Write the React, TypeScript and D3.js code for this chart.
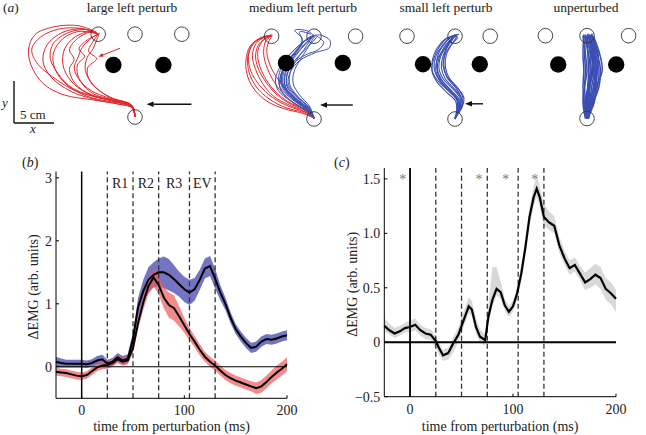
import React from "react";
import * as d3 from "d3";

const W = 646;
const H = 435;
const FONT = "Liberation Serif, DejaVu Serif, Times New Roman, serif";

// ---------- panel (a): reach trajectories (cm, origin at start target, y up) ----------
const conditionTitles = ["large left perturb", "medium left perturb", "small left perturb", "unperturbed"];
const topTargetX = [[-4.6, 0, 5.85], [-5.3, 0, 5.2], [-6.0, 0, 4.4], [-5.2, 0, 5.2]];
const topTargetY = 10.35;
const obstacleX = [[-2.7, 3.55], [-3.5, 3.6], [-4.0, 3.1], [-3.6, 3.65]];
const obstacleY = [6.5, 7.0, 6.85, 6.75];
const perturbLength = [5.6, 4.1, 2.25, 0];
const perturbTipX = [1.45, 0.75, 1.25, 0];
const perturbY = [1.6, 1.75, 1.9, 0];

const largeRed = [
  [[0, 0], [-0.3, 1.3], [-2, 1.8], [-4.5, 2.4], [-7.5, 3.3], [-10, 4.8], [-12.3, 6.8], [-12.9, 8.5], [-11.8, 10], [-9.5, 11], [-7, 11.1], [-5, 10.6], [-4.6, 10.3]],
  [[0, 0], [-0.3, 1.2], [-2.5, 1.7], [-5, 2.2], [-8, 3.2], [-10.5, 5], [-11.5, 7], [-11, 9], [-9, 10.6], [-6.5, 11], [-4.6, 10.4]],
  [[0, 0.2], [-0.5, 1.4], [-3, 1.9], [-6, 2.6], [-8.5, 4], [-10, 6], [-10.2, 8], [-9, 9.8], [-7, 10.7], [-4.8, 10.4]],
  [[0, 0], [-0.4, 1.5], [-3, 2.1], [-6, 3], [-8, 4.5], [-9, 6.5], [-8.8, 8.5], [-7.5, 10], [-5.5, 10.7], [-4.5, 10.3]],
  [[0, 0.3], [-0.6, 1.6], [-3, 2.3], [-5.5, 3.3], [-7, 4.8], [-7.2, 6.5], [-6.3, 7.6], [-7, 8.5], [-6, 9.6], [-4.6, 10.3]],
  [[0, 0.1], [-0.5, 1.4], [-2.5, 2.2], [-4.5, 3.3], [-5.8, 4.8], [-5.9, 6.2], [-4.8, 7.3], [-5.8, 8.2], [-5.2, 9.5], [-4.6, 10.3]],
  [[0, 0], [-0.3, 1.1], [-2, 1.6], [-5, 2.1], [-9, 2.8], [-11.5, 4.2], [-13, 6.5], [-13.3, 8.5], [-12.5, 10.3], [-10, 11.3], [-7, 11.4], [-4.8, 10.6]],
  [[0, 0.2], [-0.4, 1.3], [-2.8, 2], [-5.5, 2.8], [-7.5, 4.2], [-8.2, 6], [-7.6, 7.2], [-8.2, 8.4], [-7.2, 9.8], [-5.6, 10.6], [-4.6, 10.4]],
  [[0, 0], [-0.5, 1.5], [-3.2, 2.5], [-5.2, 4], [-6.2, 5.8], [-6, 7.4], [-5.2, 8.6], [-4.8, 9.6], [-4.5, 10.3]],
  [[0, 0.1], [-0.4, 1.2], [-2.2, 1.9], [-4.8, 2.5], [-7.8, 3.6], [-9.6, 5.4], [-10.6, 7.4], [-10.2, 9.2], [-8.2, 10.6], [-5.8, 10.9], [-4.7, 10.3]],
  [[0, 0.2], [-0.5, 1.4], [-2.6, 2.1], [-5.2, 2.9], [-6.8, 4.4], [-7.6, 6.1], [-7.1, 7.5], [-6.6, 8.7], [-5.4, 9.9], [-4.4, 10.5]],
];

const mediumRed = [
  [[0, 0.2], [-1.2, 0.9], [-3.2, 1.6], [-5.2, 2.7], [-6.8, 4.2], [-7.9, 6], [-8.2, 7.8], [-7.6, 9.4], [-6.4, 10.2], [-5.3, 10.4]],
  [[0, 0.2], [-1, 1], [-2.8, 1.8], [-4.6, 3], [-6, 4.6], [-7, 6.4], [-7.3, 8], [-6.8, 9.5], [-5.6, 10.3]],
  [[0, 0.3], [-1, 1.1], [-2.5, 2], [-4, 3.3], [-5.2, 5], [-6, 6.8], [-6.3, 8.4], [-6, 9.8], [-5.3, 10.4]],
  [[0, 0.1], [-1.3, 0.8], [-3.5, 1.4], [-5.6, 2.5], [-7.2, 4], [-8.1, 5.8], [-8.3, 7.5], [-7.9, 9], [-6.8, 10], [-5.4, 10.4]],
  [[0, 0.2], [-0.9, 1.2], [-2.3, 2.3], [-3.6, 3.8], [-4.8, 5.4], [-5.6, 7], [-5.9, 8.6], [-5.6, 9.8], [-5.2, 10.4]],
  [[0, 0.2], [-1.1, 0.9], [-3, 1.7], [-5, 2.8], [-6.4, 4.4], [-7.3, 6.2], [-7.7, 7.9], [-7.2, 9.5], [-6, 10.3], [-5.2, 10.5]],
  [[0, 0.3], [-1.2, 1.2], [-3.3, 2.2], [-5, 3.6], [-6.2, 5.3], [-6.9, 7], [-7, 8.6], [-6.3, 9.9], [-5.3, 10.4]],
  [[0, 0.1], [-1.4, 0.7], [-3.8, 1.3], [-6, 2.3], [-7.6, 3.9], [-8.4, 5.7], [-8.5, 7.4], [-8, 9.1], [-6.6, 10.2], [-5.3, 10.5]],
];

const mediumBlue = [
  [[0, 0], [-0.8, 1.3], [-2.4, 2.6], [-3.6, 4], [-3.6, 5.5], [-2.9, 7], [-1.9, 8.4], [-0.9, 9.6], [0, 10.4]],
  [[0, 0.2], [-1, 1.2], [-2.8, 2.5], [-4.2, 3.9], [-4.4, 5.4], [-3.8, 7], [-2.6, 8.5], [-1.2, 9.7], [0, 10.4]],
  [[0, 0.1], [-0.6, 1.4], [-2, 2.8], [-3, 4.2], [-3, 5.7], [-2.3, 7.2], [-1.3, 8.6], [-0.5, 9.8], [0.1, 10.5]],
  [[0, 0.2], [-1.1, 1.1], [-3, 2.3], [-4.5, 3.6], [-4.8, 5], [-4.2, 6.6], [-3, 8.1], [-1.5, 9.5], [-0.2, 10.3]],
  [[0, 0], [-0.7, 1.5], [-2.2, 2.9], [-3.2, 4.3], [-3, 5.8], [-1.8, 7.3], [0.2, 8.3], [1.9, 8.9], [2, 9.8], [0.8, 10.5], [0, 10.4]],
  [[0, 0.2], [-0.9, 1.3], [-2.6, 2.7], [-3.8, 4.2], [-3.8, 5.8], [-3, 7.3], [-2, 8.7], [-1.5, 10], [-2.4, 11.1], [-0.8, 11], [0, 10.4]],
  [[0, 0.1], [-0.5, 1.5], [-1.8, 3], [-2.6, 4.4], [-2.5, 5.9], [-1.8, 7.3], [-0.9, 8.7], [-0.2, 9.9], [0.2, 10.4]],
  [[0, 0.2], [-1, 1.3], [-2.7, 2.6], [-3.9, 4.1], [-4, 5.7], [-3.2, 7.3], [-2, 8.6], [-0.7, 9.8], [0, 10.5]],
  [[0, 0.3], [-0.8, 1.4], [-2.3, 2.7], [-3.4, 4.1], [-3.3, 5.7], [-2.5, 7.2], [-1.4, 8.4], [-0.3, 9.5], [0.4, 10.3]],
  [[0, 0.1], [-1.2, 1.2], [-3.2, 2.5], [-4.3, 4], [-4.1, 5.6], [-3.3, 7.2], [-2.2, 8.6], [-1, 9.9], [0, 10.5]],
  [[0, 0], [-0.6, 1.4], [-2.1, 2.7], [-3.3, 4.1], [-3.4, 5.5], [-2.6, 6.9], [-1.1, 8], [0.6, 8.7], [1.2, 9.6], [0.3, 10.4]],
  [[0, 0.2], [-0.9, 1.2], [-2.5, 2.4], [-3.9, 3.8], [-4.2, 5.3], [-3.5, 6.9], [-2.4, 8.3], [-1.4, 9.6], [-1.8, 10.9], [-0.4, 10.6]],
  [[0, 0.1], [-0.7, 1.3], [-2.2, 2.5], [-3.5, 3.9], [-3.7, 5.4], [-3.1, 6.9], [-2.2, 8.2], [-1.1, 9.3], [-0.3, 10.2]],
  [[0, 0.2], [-1.1, 1.4], [-2.9, 2.8], [-4, 4.4], [-3.9, 6], [-3.1, 7.5], [-1.9, 8.9], [-0.8, 10.1], [0.2, 10.5]],
];

const smallBlue = [
  [[0, 0], [0.5, 1.2], [0.6, 2.3], [-0.4, 3.5], [-1.6, 4.8], [-2.2, 6.2], [-2, 7.6], [-1.4, 8.9], [-0.6, 9.9], [0, 10.4]],
  [[0, 0.1], [0.7, 1.3], [0.9, 2.4], [0, 3.7], [-1.2, 5], [-1.7, 6.4], [-1.5, 7.9], [-0.9, 9.1], [-0.3, 10], [0.1, 10.4]],
  [[0, 0], [0.3, 1.2], [0.2, 2.4], [-0.9, 3.6], [-2, 4.9], [-2.6, 6.3], [-2.4, 7.8], [-1.7, 9], [-0.8, 10], [0, 10.4]],
  [[0, 0.2], [0.8, 1.4], [1, 2.6], [0.4, 3.8], [-0.7, 5.1], [-1.2, 6.5], [-1.1, 8], [-0.5, 9.2], [0.1, 10.1], [0.2, 10.5]],
  [[0, 0], [0.4, 1.1], [0.4, 2.2], [-0.5, 3.3], [-1.9, 4.5], [-2.8, 5.9], [-2.8, 7.5], [-2.2, 8.9], [-1.2, 10], [-0.2, 10.4]],
  [[0, 0.1], [0.6, 1.3], [0.7, 2.5], [-0.2, 3.7], [-1.4, 4.9], [-2, 6.3], [-1.8, 7.8], [-1.1, 9.1], [-0.3, 10.2], [0.3, 10.5]],
  [[0, 0], [0.5, 1.2], [0.5, 2.3], [-0.7, 3.5], [-1.8, 4.7], [-2.4, 6.1], [-2.1, 7.7], [-1.2, 8.9], [-0.4, 9.8], [0, 10.6]],
  [[0, 0.2], [0.9, 1.5], [1.1, 2.7], [0.2, 4], [-1, 5.3], [-1.5, 6.8], [-1.2, 8.2], [-0.4, 9.4], [0.3, 10.2], [0, 10.5]],
  [[0, 0.1], [0.2, 1.1], [0.1, 2.2], [-1.1, 3.4], [-2.3, 4.7], [-2.9, 6.1], [-2.6, 7.7], [-1.9, 9.1], [-1, 10.1], [-0.2, 10.4]],
  [[0, 0], [0.6, 1.4], [0.8, 2.6], [0.1, 3.9], [-1, 5.2], [-1.4, 6.7], [-1.3, 8.2], [-0.8, 9.4], [-0.2, 10.3], [0.2, 10.5]],
  [[0, 0.1], [0.4, 1.3], [0.3, 2.5], [-0.8, 3.8], [-1.9, 5.1], [-2.3, 6.6], [-2.1, 8.1], [-1.3, 9.4], [-0.5, 10.3], [0.5, 10.6]],
];

const unperturbedBlue = [
  [[0, 0], [0.1, 2], [0.3, 4], [0.5, 6], [0.4, 8], [0, 10.4]],
  [[0.1, 0], [0.4, 2], [0.8, 4], [1, 6], [0.7, 8], [0.2, 10.4]],
  [[0, 0.1], [-0.2, 2], [-0.3, 4], [-0.2, 6], [-0.3, 8], [-0.2, 10.3]],
  [[0.2, 0], [0.7, 2], [1.3, 4], [1.5, 6], [1.1, 8], [0.3, 10.5]],
  [[0, 0], [0.3, 2], [0.6, 4], [0.9, 6], [0.9, 8], [0.4, 10.4]],
  [[-0.1, 0.1], [-0.4, 2], [-0.5, 4], [-0.4, 6], [-0.5, 8], [-0.4, 10.5]],
  [[0.1, 0], [0.5, 2], [1.1, 4], [1.3, 6], [1.4, 8], [0.6, 10.4]],
  [[0, 0], [0, 2], [0.1, 4], [0.2, 6], [0.1, 8], [-0.1, 10.2]],
  [[0.2, 0.1], [0.6, 2], [1, 4], [1.2, 6], [0.9, 8], [0.1, 10.5]],
  [[0, 0], [0.2, 2], [0.4, 4], [0.7, 6], [0.6, 8], [0.2, 10.3]],
  [[-0.1, 0], [-0.1, 2], [0.1, 4], [0.4, 6], [0.2, 8], [-0.3, 10.4]],
  [[0.1, 0], [0.8, 2], [1.5, 4], [1.7, 6], [1.3, 8], [0.5, 10.5]],
  [[0, 0.1], [0.3, 2], [0.9, 4], [1.1, 6], [1.1, 8], [0.6, 10.6]],
  [[0.1, 0], [0, 2], [0.2, 4], [0.8, 6], [0.5, 8], [-0.2, 10.5]],
  [[-0.2, 0], [-0.5, 2], [-0.3, 4], [0, 6], [-0.2, 8], [-0.5, 10.4]],
  [[0.1, 0.1], [0.9, 2], [1.2, 4], [1.9, 6], [1.6, 8], [0.8, 10.3]],
  [[0, 0], [-0.3, 2], [0.2, 4], [0.6, 6], [0.8, 8], [0.1, 10.6]],
];

// ---------- panel (b): EMG response ----------
const timeB = [-25, -20, -15, -10, -5, 0, 5, 10, 15, 20, 25, 30, 35, 40, 45, 50, 55, 60, 65, 70, 75, 80, 85, 90, 95, 100, 105, 110, 115, 120, 125, 130, 135, 140, 145, 150, 155, 160, 165, 170, 175, 180, 185, 190, 195, 200];
const blueMean = [0.08, 0.06, 0.05, 0.05, 0.05, 0.05, 0.04, 0.06, 0.1, 0.12, 0.05, 0.08, 0.15, 0.1, 0.13, 0.45, 0.95, 1.2, 1.38, 1.46, 1.5, 1.5, 1.46, 1.39, 1.31, 1.23, 1.18, 1.23, 1.38, 1.56, 1.6, 1.4, 1.18, 1.0, 0.78, 0.6, 0.48, 0.38, 0.3, 0.32, 0.4, 0.44, 0.43, 0.45, 0.48, 0.5];
const blueSE = [0.08, 0.07, 0.06, 0.06, 0.06, 0.06, 0.06, 0.06, 0.07, 0.07, 0.06, 0.06, 0.07, 0.07, 0.07, 0.1, 0.15, 0.18, 0.2, 0.2, 0.22, 0.25, 0.25, 0.22, 0.2, 0.2, 0.2, 0.18, 0.16, 0.16, 0.16, 0.16, 0.12, 0.1, 0.09, 0.08, 0.08, 0.08, 0.08, 0.08, 0.08, 0.08, 0.08, 0.08, 0.08, 0.08];
const redMean = [-0.08, -0.09, -0.1, -0.12, -0.14, -0.15, -0.13, -0.07, -0.01, 0.02, 0.03, 0.06, 0.12, 0.08, 0.1, 0.3, 0.7, 1.02, 1.28, 1.42, 1.3, 1.1, 0.98, 0.93, 0.8, 0.66, 0.52, 0.4, 0.27, 0.16, 0.08, 0.02, -0.06, -0.13, -0.18, -0.22, -0.25, -0.28, -0.31, -0.34, -0.31, -0.24, -0.16, -0.09, -0.03, 0.04];
const redSE = [0.06, 0.06, 0.06, 0.06, 0.06, 0.06, 0.06, 0.06, 0.06, 0.06, 0.06, 0.06, 0.06, 0.06, 0.06, 0.08, 0.1, 0.12, 0.13, 0.14, 0.15, 0.17, 0.2, 0.2, 0.16, 0.12, 0.1, 0.09, 0.09, 0.08, 0.08, 0.08, 0.08, 0.08, 0.08, 0.08, 0.08, 0.08, 0.08, 0.09, 0.1, 0.1, 0.1, 0.11, 0.11, 0.11];
const epochBounds = [25, 50, 75, 105, 130];
const epochLabels = ["R1", "R2", "R3", "EV"];
const yTicksB = [0, 1, 2, 3];
const xTicks = [0, 100, 200];

// ---------- panel (c): difference ----------
const timeC = [-25, -20, -15, -10, -5, 0, 5, 10, 15, 20, 25, 28, 32, 37, 42, 47, 52, 57, 60, 64, 68, 73, 76, 80, 84, 88, 92, 96, 100, 104, 108, 112, 116, 120, 123, 126, 130, 135, 140, 145, 150, 155, 160, 165, 170, 175, 180, 185, 190, 195, 200];
const diffMean = [0.15, 0.11, 0.08, 0.1, 0.13, 0.14, 0.16, 0.11, 0.08, 0.07, 0.01, -0.05, -0.12, -0.1, -0.01, 0.07, 0.2, 0.33, 0.3, 0.14, 0.05, 0.02, 0.23, 0.39, 0.49, 0.46, 0.34, 0.28, 0.33, 0.45, 0.63, 0.87, 1.15, 1.33, 1.41, 1.33, 1.15, 1.1, 1.07, 0.89, 0.77, 0.68, 0.71, 0.63, 0.55, 0.58, 0.62, 0.59, 0.49, 0.45, 0.4];
const diffUpper = [0.07, 0.06, 0.05, 0.05, 0.05, 0.06, 0.06, 0.05, 0.05, 0.05, 0.05, 0.05, 0.05, 0.05, 0.06, 0.07, 0.08, 0.08, 0.08, 0.08, 0.07, 0.05, 0.1, 0.3, 0.2, 0.1, 0.06, 0.05, 0.05, 0.06, 0.07, 0.08, 0.09, 0.1, 0.12, 0.1, 0.12, 0.1, 0.09, 0.08, 0.07, 0.07, 0.07, 0.07, 0.09, 0.1, 0.1, 0.1, 0.1, 0.1, 0.08];
const diffLower = [0.05, 0.04, 0.04, 0.04, 0.04, 0.05, 0.05, 0.05, 0.05, 0.05, 0.06, 0.06, 0.05, 0.06, 0.08, 0.07, 0.06, 0.06, 0.06, 0.06, 0.06, 0.05, 0.05, 0.06, 0.06, 0.06, 0.05, 0.05, 0.05, 0.06, 0.07, 0.07, 0.08, 0.08, 0.08, 0.08, 0.08, 0.07, 0.07, 0.07, 0.06, 0.06, 0.06, 0.06, 0.07, 0.08, 0.09, 0.1, 0.1, 0.1, 0.12];
const starTimes = [-7, 67, 93, 121];
const yTicksC = [-0.5, 0, 0.5, 1.0, 1.5];

// ---------- layout ----------
const PX_PER_CM = 8;
const panelStart = [
  { cx: 135, sy: 117 },
  { cx: 314, sy: 119 },
  { cx: 455, sy: 119 },
  { cx: 587, sy: 118.5 },
];
const titleX = [132, 303, 446, 586];
const trajWidth = [1.0, 1.0, 1.1, 1.5];
const RED = "#e3282c";
const BLUE = "#3b4fb2";
const txt = { fontFamily: FONT };

function Arrow({ x1, y1, x2, y2, color, width, head }: any) {
  const ang = Math.atan2(y2 - y1, x2 - x1);
  const hx = x2 - Math.cos(ang) * head;
  const hy = y2 - Math.sin(ang) * head;
  const px = -Math.sin(ang) * head * 0.4;
  const py = Math.cos(ang) * head * 0.4;
  return (
    <g>
      <line x1={x1} y1={y1} x2={hx} y2={hy} stroke={color} strokeWidth={width} />
      <path d={`M${x2},${y2}L${hx + px},${hy + py}L${hx - px},${hy - py}Z`} fill={color} />
    </g>
  );
}

function TrajPanel({ idx, sets }: { idx: number; sets: { data: number[][][]; color: string }[] }) {
  const { cx, sy } = panelStart[idx];
  const xs = d3.scaleLinear().domain([0, 1]).range([cx, cx + PX_PER_CM]);
  const ys = d3.scaleLinear().domain([0, 1]).range([sy, sy - PX_PER_CM]);
  const line = d3
    .line<number[]>()
    .x((d) => xs(d[0]))
    .y((d) => ys(d[1]))
    .curve(d3.curveCatmullRom.alpha(0.5));
  return (
    <g>
      <text x={titleX[idx]} y={12} fontSize={13.5} textAnchor="middle" style={txt} fill="#222">
        {conditionTitles[idx]}
      </text>
      {sets.map((s, si) =>
        s.data.map((tr, ti) => (
          <path key={`${si}-${ti}`} d={line(tr) || ""} fill="none" stroke={s.color} strokeWidth={trajWidth[idx]} />
        ))
      )}
      {topTargetX[idx].map((tx, i) => (
        <circle key={`t${i}`} cx={xs(tx)} cy={ys(topTargetY)} r={7.3} fill="none" stroke="#333" strokeWidth={0.9} />
      ))}
      {obstacleX[idx].map((ox, i) => (
        <circle key={`o${i}`} cx={xs(ox)} cy={ys(obstacleY[idx])} r={8.2} fill="#000" />
      ))}
      <circle cx={xs(0)} cy={ys(0)} r={7.3} fill="none" stroke="#333" strokeWidth={0.9} />
      {perturbLength[idx] > 0 && (
        <Arrow
          x1={xs(perturbTipX[idx] + perturbLength[idx])}
          y1={ys(perturbY[idx])}
          x2={xs(perturbTipX[idx])}
          y2={ys(perturbY[idx])}
          color="#111"
          width={1.4}
          head={7}
        />
      )}
    </g>
  );
}

function Axes({ xScale, yScale, yTicks, yFormat, labelY }: any) {
  const [x0, x1] = xScale.range();
  const [y0, y1] = yScale.range();
  return (
    <g style={txt} fill="#222">
      <line x1={x0} y1={y0} x2={x0} y2={y1} stroke="#000" strokeWidth={1} />
      <line x1={x0} y1={y0} x2={x1} y2={y0} stroke="#000" strokeWidth={1} />
      {yTicks.map((t: number) => (
        <g key={`y${t}`}>
          <line x1={x0} x2={x0 + 3} y1={yScale(t)} y2={yScale(t)} stroke="#000" strokeWidth={1} />
          <text x={x0 - 4} y={yScale(t)} dy="0.35em" fontSize={14} textAnchor="end" style={txt}>
            {yFormat(t)}
          </text>
        </g>
      ))}
      {xTicks.map((t) => (
        <g key={`x${t}`}>
          <line x1={xScale(t)} x2={xScale(t)} y1={y0} y2={y0 - 3} stroke="#000" strokeWidth={1} />
          <text x={xScale(t)} y={y0 + 17} fontSize={14} textAnchor="middle" style={txt}>
            {t}
          </text>
        </g>
      ))}
      <text x={(x0 + x1) / 2} y={431} fontSize={14} textAnchor="middle" style={txt}>
        time from perturbation (ms)
      </text>
      <text transform={`translate(${labelY},${(y0 + y1) / 2 + 2}) rotate(-90)`} fontSize={14} textAnchor="middle" style={txt}>
        ΔEMG (arb. units)
      </text>
    </g>
  );
}

export default function App() {
  const xB = d3.scaleLinear().domain([-25, 200]).range([56, 287]);
  const yB = d3.scaleLinear().domain([-0.5, 3.1]).range([398.3, 171.5]);
  const xC = d3.scaleLinear().domain([-25, 200]).range([384.3, 616]);
  const yC = d3.scaleLinear().domain([-0.5, 1.6]).range([396.7, 168]);

  const areaB = (mean: number[], se: number[]) =>
    d3
      .area<number>()
      .x((_, i) => xB(timeB[i]))
      .y0((m, i) => yB(m - se[i]))
      .y1((m, i) => yB(m + se[i]))(mean) || "";
  const lineB = (mean: number[]) =>
    d3
      .line<number>()
      .x((_, i) => xB(timeB[i]))
      .y((m) => yB(m))(mean) || "";
  const areaC =
    d3
      .area<number>()
      .x((_, i) => xC(timeC[i]))
      .y0((m, i) => yC(m - diffLower[i]))
      .y1((m, i) => yC(m + diffUpper[i]))(diffMean) || "";
  const lineC =
    d3
      .line<number>()
      .x((_, i) => xC(timeC[i]))
      .y((m) => yC(m))(diffMean) || "";

  const sbX = 14;
  const sbY = 123;
  const sbLen = 5 * PX_PER_CM;

  return (
    <svg width={W} height={H} viewBox={`0 0 ${W} ${H}`} style={{ display: "block", position: "absolute", left: 0, top: 0, background: "#fff" }}>
      <rect width={W} height={H} fill="#fff" />
      {/* panel (a) */}
      <text x={3} y={12} fontSize={13.5} style={txt} fill="#222">
        (<tspan fontStyle="italic">a</tspan>)
      </text>
      <TrajPanel idx={0} sets={[{ data: largeRed, color: RED }]} />
      <TrajPanel idx={1} sets={[{ data: mediumRed, color: RED }, { data: mediumBlue, color: BLUE }]} />
      <TrajPanel idx={2} sets={[{ data: smallBlue, color: BLUE }]} />
      <TrajPanel idx={3} sets={[{ data: unperturbedBlue, color: BLUE }]} />
      <Arrow x1={120} y1={48.3} x2={98.3} y2={56.7} color={RED} width={1} head={5} />
      {/* scale bar */}
      <line x1={sbX} y1={sbY - sbLen - 2} x2={sbX} y2={sbY} stroke="#111" strokeWidth={1.4} />
      <line x1={sbX} y1={sbY} x2={sbX + sbLen} y2={sbY} stroke="#111" strokeWidth={1.4} />
      <text x={20} y={118.5} fontSize={13} style={txt} fill="#222">5 cm</text>
      <text x={2} y={107} fontSize={13} style={txt} fontStyle="italic" fill="#222">y</text>
      <text x={33} y={133} fontSize={13} style={txt} fontStyle="italic" fill="#222" textAnchor="middle">x</text>

      {/* panel (b) */}
      <text x={22} y={167} fontSize={14} style={txt} fill="#222">
        (<tspan fontStyle="italic">b</tspan>)
      </text>
      <path d={areaB(blueMean, blueSE)} fill="#6565bd" opacity={0.9} />
      <path d={areaB(redMean, redSE)} fill="#ee5a5a" opacity={0.7} />
      <line x1={xB(-25)} x2={xB(200)} y1={yB(0)} y2={yB(0)} stroke="#000" strokeWidth={1.1} />
      <line x1={xB(0)} x2={xB(0)} y1={yB(-0.5)} y2={yB(3.1)} stroke="#000" strokeWidth={1.5} />
      {epochBounds.map((t) => (
        <line key={t} x1={xB(t)} x2={xB(t)} y1={yB(-0.5)} y2={yB(3.1)} stroke="#333" strokeWidth={1.3} strokeDasharray="5,3" />
      ))}
      {epochLabels.map((l, i) => (
        <text key={l} x={xB((epochBounds[i] + epochBounds[i + 1]) / 2)} y={188} fontSize={14} style={txt} textAnchor="middle" fill="#222">
          {l}
        </text>
      ))}
      <path d={lineB(blueMean)} fill="none" stroke="#000" strokeWidth={2} />
      <path d={lineB(redMean)} fill="none" stroke="#000" strokeWidth={2} />
      <Axes xScale={xB} yScale={yB} yTicks={yTicksB} yFormat={(t: number) => String(t)} labelY={38} />

      {/* panel (c) */}
      <text x={334} y={167} fontSize={14} style={txt} fill="#222">
        (<tspan fontStyle="italic">c</tspan>)
      </text>
      <path d={areaC} fill="#d9d9d9" />
      <line x1={xC(-25)} x2={xC(200)} y1={yC(0)} y2={yC(0)} stroke="#000" strokeWidth={1.8} />
      <line x1={xC(0)} x2={xC(0)} y1={yC(-0.5)} y2={yC(1.6)} stroke="#000" strokeWidth={1.8} />
      {epochBounds.map((t) => (
        <line key={t} x1={xC(t)} x2={xC(t)} y1={yC(-0.5)} y2={yC(1.6)} stroke="#333" strokeWidth={1.3} strokeDasharray="5,3" />
      ))}
      {starTimes.map((t) => (
        <text key={t} x={xC(t)} y={184} fontSize={14} style={txt} textAnchor="middle" fill="#777">
          *
        </text>
      ))}
      <path d={lineC} fill="none" stroke="#000" strokeWidth={2.2} />
      <Axes
        xScale={xC}
        yScale={yC}
        yTicks={yTicksC}
        yFormat={(t: number) => (t === 0 ? "0" : t < 0 ? "\u2212" + Math.abs(t).toFixed(1) : t.toFixed(1))}
        labelY={357}
      />
    </svg>
  );
}
